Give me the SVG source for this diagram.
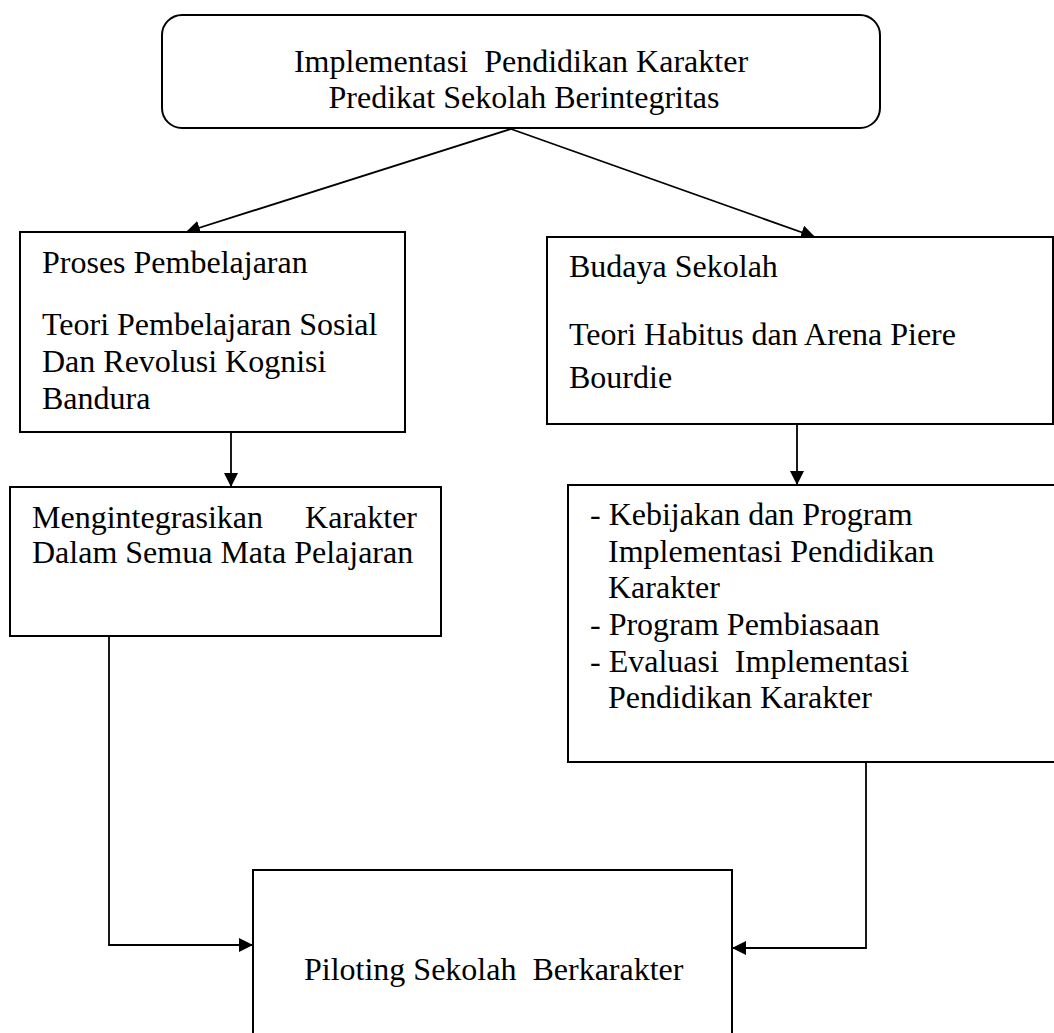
<svg xmlns="http://www.w3.org/2000/svg" width="1054" height="1033" viewBox="0 0 1054 1033">
  <style>
    .box { fill: #ffffff; stroke: #000000; stroke-width: 2; }
    .conn { fill: none; stroke: #000000; stroke-width: 1.8; }
    .t { font-family: "Liberation Serif", "Times New Roman", serif; font-size: 32px; fill: #000000; }
    .tc { text-anchor: middle; }
  </style>
  <defs>
    <marker id="arrow" markerUnits="userSpaceOnUse" markerWidth="15" markerHeight="14" refX="14" refY="7" orient="auto">
      <path d="M0,0 L14,7 L0,14 z" fill="#000000"/>
    </marker>
  </defs>
  <rect width="1054" height="1033" fill="#ffffff"/>

  <g id="connectors">
    <line class="conn" x1="511" y1="129" x2="186" y2="232" marker-end="url(#arrow)"/>
    <line class="conn" x1="511" y1="129" x2="815" y2="237" marker-end="url(#arrow)"/>
    <line class="conn" x1="231" y1="432" x2="231" y2="487" marker-end="url(#arrow)"/>
    <line class="conn" x1="797" y1="424" x2="797" y2="485" marker-end="url(#arrow)"/>
    <polyline class="conn" points="109,636 109,945 253,945" marker-end="url(#arrow)"/>
    <polyline class="conn" points="866,762 866,948 732,948" marker-end="url(#arrow)"/>
  </g>

  <g id="node-top">
    <rect class="box" x="162" y="15" width="718" height="113" rx="20" ry="20"/>
    <text class="t tc" x="521" y="72" xml:space="preserve">Implementasi  Pendidikan Karakter</text>
    <text class="t tc" x="524" y="108">Predikat Sekolah Berintegritas</text>
  </g>

  <g id="node-proses">
    <rect class="box" x="20" y="232" width="385" height="200"/>
    <text class="t" x="42" y="273">Proses Pembelajaran</text>
    <text class="t" x="42" y="335">Teori Pembelajaran Sosial</text>
    <text class="t" x="42" y="372">Dan Revolusi Kognisi</text>
    <text class="t" x="42" y="409">Bandura</text>
  </g>

  <g id="node-budaya">
    <rect class="box" x="547" y="237" width="506" height="187"/>
    <text class="t" x="569" y="277">Budaya Sekolah</text>
    <text class="t" x="569" y="345">Teori Habitus dan Arena Piere</text>
    <text class="t" x="569" y="388">Bourdie</text>
  </g>

  <g id="node-integrasi">
    <rect class="box" x="10" y="487" width="431" height="149"/>
    <text class="t" x="32" y="528">Mengintegrasikan</text>
    <text class="t" x="417" y="528" text-anchor="end">Karakter</text>
    <text class="t" x="32" y="563">Dalam Semua Mata Pelajaran</text>
  </g>

  <g id="node-kebijakan">
    <rect class="box" x="568" y="485" width="490" height="277"/>
    <text class="t" x="590" y="525">- Kebijakan dan Program</text>
    <text class="t" x="608" y="562">Implementasi Pendidikan</text>
    <text class="t" x="608" y="598">Karakter</text>
    <text class="t" x="590" y="635">- Program Pembiasaan</text>
    <text class="t" x="590" y="672" xml:space="preserve">- Evaluasi  Implementasi</text>
    <text class="t" x="608" y="708">Pendidikan Karakter</text>
  </g>

  <g id="node-piloting">
    <rect class="box" x="253" y="870" width="479" height="175"/>
    <text class="t" x="304" y="980" xml:space="preserve">Piloting Sekolah  Berkarakter</text>
  </g>
</svg>
